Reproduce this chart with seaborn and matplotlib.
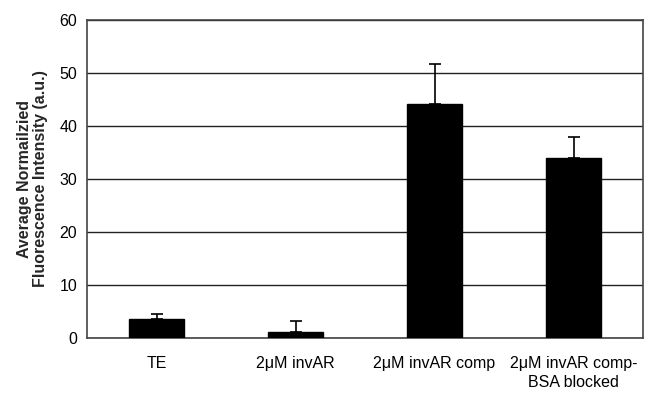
import matplotlib
matplotlib.use("Agg")
import matplotlib.pyplot as plt
import seaborn as sns
import pandas as pd
import numpy as np

categories = ["TE", "2\u03bcM invAR", "2\u03bcM invAR comp", "2\u03bcM invAR comp-\nBSA blocked"]
means = [3.5, 1.1, 44.1, 34.0]
upper_err = [1.1, 2.1, 7.6, 4.0]
yticks = [0, 10, 20, 30, 40, 50, 60]

sns.set_theme(style="white")
plt.rcParams["font.family"] = ["Liberation Sans", "DejaVu Sans"]

df = pd.DataFrame({"group": categories, "value": means})

fig = plt.figure(figsize=(6.65, 3.93), dpi=100)
ax = fig.add_axes([87 / 665, 1 - 338 / 393, (643 - 87) / 665, (338 - 20) / 393])

sns.barplot(data=df, x="group", y="value", color="black", saturation=1,
            width=0.4, errorbar=None, ax=ax, zorder=3)
for p in ax.patches:
    p.set_edgecolor("black")

x = np.arange(len(categories))
ax.errorbar(x, means, yerr=[np.zeros(len(means)), upper_err], fmt="none",
            ecolor="black", elinewidth=1.2, capsize=4, capthick=1.2, zorder=2)

ax.set_ylim(0, 60)
ax.set_xlim(-0.5, len(categories) - 0.5)
ax.set_yticks(yticks)
ax.yaxis.grid(True, color="#222222", linewidth=1.0)
ax.set_axisbelow(True)
for s in ax.spines.values():
    s.set_visible(True)
    s.set_color("#444444")
    s.set_linewidth(1.2)

ax.tick_params(axis="both", length=0, labelsize=11.5, colors="black")
ax.tick_params(axis="y", pad=7)
ax.tick_params(axis="x", pad=13)
for lbl in ax.get_xticklabels():
    lbl.set_linespacing(1.3)
ax.set_xlabel("")
ax.set_ylabel("Average Normailzied\nFluorescence Intensity (a.u.)", fontsize=11.5,
              fontweight="bold", labelpad=8, linespacing=1.1)

fig.savefig("out.png", dpi=100, facecolor="white")
